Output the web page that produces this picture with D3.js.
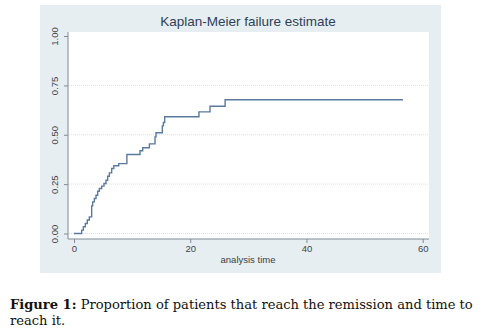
<!DOCTYPE html>
<html>
<head>
<meta charset="utf-8">
<script src="https://cdn.jsdelivr.net/npm/d3@7"></script>
<style>
  body { margin: 0; background: #fff; }
  svg text { font-family: "Liberation Sans", Arial, sans-serif; }
</style>
</head>
<body>
<div id="chart"></div>
<script>
// event times and Kaplan-Meier failure values
const eventTimes = [0, 1.03, 1.32, 1.61, 1.95, 2.29, 2.64, 3.04, 3.21, 3.5, 3.79, 4.07, 4.36, 4.76, 5.16, 5.51, 5.79, 6.08, 6.48, 6.85, 7.7, 9.1, 11.36, 11.82, 12.97, 13.94, 14.11, 15.2, 15.38, 15.6, 21.5, 23.4, 26.0];
const failure = [0, 0, 0.017, 0.034, 0.051, 0.068, 0.084, 0.14, 0.16, 0.177, 0.194, 0.214, 0.228, 0.24, 0.253, 0.27, 0.29, 0.307, 0.329, 0.343, 0.354, 0.4, 0.419, 0.434, 0.454, 0.489, 0.51, 0.545, 0.562, 0.591, 0.616, 0.644, 0.677];
const lastTime = 56.6;

const xTicks = [0, 20, 40, 60];
const yTicks = [0, 0.25, 0.5, 0.75, 1];
const gridTicks = [0, 0.25, 0.5, 0.75];

const titleText = "Kaplan-Meier failure estimate";
const xLabel = "analysis time";
const captionBold = "Figure 1:";
const captionLine1 = " Proportion of patients that reach the remission and time to";
const captionLine2 = "reach it.";

const width = 483, height = 335;

const svg = d3.select("#chart").append("svg")
    .attr("width", width)
    .attr("height", height);

// stata style outer panel
svg.append("rect")
    .attr("x", 40).attr("y", 5)
    .attr("width", 401).attr("height", 268)
    .attr("fill", "#e6eef1");

// white plot region
const plot = {left: 68, top: 32, right: 429, bottom: 239};
svg.append("rect")
    .attr("x", plot.left).attr("y", plot.top)
    .attr("width", plot.right - plot.left).attr("height", plot.bottom - plot.top)
    .attr("fill", "#ffffff");

const x = d3.scaleLinear().domain([0, 60]).range([74, 422.7]);
const y = d3.scaleLinear().domain([0, 1]).range([233.5, 36]);

// grid
svg.append("g").selectAll("line")
    .data(gridTicks)
    .join("line")
    .attr("x1", plot.left + 1).attr("x2", plot.right)
    .attr("y1", d => y(d)).attr("y2", d => y(d))
    .attr("stroke", "#d9e3ea")
    .attr("stroke-width", 1)
    .attr("stroke-dasharray", "1,1");

// axes
const xAxis = svg.append("g")
    .attr("transform", `translate(0, ${plot.bottom})`)
    .call(d3.axisBottom(x).tickValues(xTicks).tickSize(4).tickPadding(2).tickFormat(d3.format("d")));
xAxis.select(".domain").attr("d", `M${plot.left},0H${plot.right}`);

const yAxis = svg.append("g")
    .attr("transform", `translate(${plot.left}, 0)`)
    .call(d3.axisLeft(y).tickValues(yTicks).tickSize(4).tickPadding(3).tickFormat(d3.format(".2f")));
yAxis.select(".domain").attr("d", `M0,${plot.top}V${plot.bottom}`);

svg.selectAll(".domain").attr("stroke", "#7f8b95");
svg.selectAll(".tick line").attr("stroke", "#7f8b95");
svg.selectAll(".tick text")
    .attr("fill", "#3f454b")
    .style("font-size", "9.5px");

// rotate y tick labels
yAxis.selectAll(".tick text")
    .attr("transform", "rotate(-90)")
    .attr("x", 0)
    .attr("y", -10)
    .attr("dy", "0")
    .attr("text-anchor", "middle");

// step line
const pts = eventTimes.map((t, i) => [t, failure[i]]);
pts.push([lastTime, failure[failure.length - 1]]);

const line = d3.line()
    .x(d => x(d[0]))
    .y(d => y(d[1]))
    .curve(d3.curveStepAfter);

svg.append("path")
    .datum(pts)
    .attr("d", line)
    .attr("fill", "none")
    .attr("stroke", "#5b7aa0")
    .attr("stroke-width", 1.4);

// title
svg.append("text")
    .attr("x", 248).attr("y", 26)
    .attr("text-anchor", "middle")
    .attr("fill", "#2e3f58")
    .style("font-size", "13.5px")
    .text(titleText);

// x axis label
svg.append("text")
    .attr("x", 248).attr("y", 263)
    .attr("text-anchor", "middle")
    .attr("fill", "#3a3f45")
    .style("font-size", "9.5px")
    .text(xLabel);

// caption, sized so line one spans the same width as the reference
const capFont = "'DejaVu Serif', 'Liberation Serif', serif";
const cap = svg.append("text")
    .attr("x", 10).attr("y", 309)
    .attr("fill", "#111")
    .style("font-family", capFont)
    .style("font-size", "12px");
cap.append("tspan").style("font-weight", "bold").text(captionBold);
cap.append("tspan").text(captionLine1);

const capSize = 12 * 463 / cap.node().getComputedTextLength();
cap.style("font-size", capSize + "px");

svg.append("text")
    .attr("x", 10).attr("y", 325)
    .attr("fill", "#111")
    .style("font-family", capFont)
    .style("font-size", capSize + "px")
    .text(captionLine2);
</script>
</body>
</html>
